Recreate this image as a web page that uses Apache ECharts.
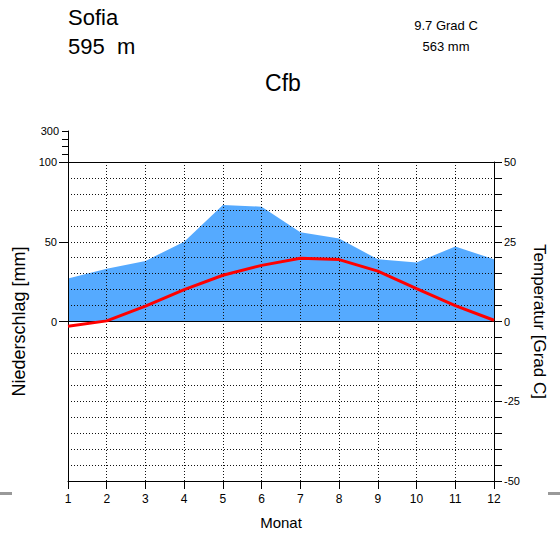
<!DOCTYPE html>
<html>
<head>
<meta charset="utf-8">
<script src="https://cdn.jsdelivr.net/npm/echarts@6/dist/echarts.min.js"></script>
<style>
html,body{margin:0;padding:0;background:#fff;}
#c{width:560px;height:535px;}
</style>
</head>
<body>
<div id="c"></div>
<script>
// ---- data ----
var months = [1, 2, 3, 4, 5, 6, 7, 8, 9, 10, 11, 12];
var precipitation = [27, 33, 38, 50, 73, 72, 56, 52, 39, 37, 47, 39]; // mm
var temperature = [-1.5, 0.2, 4.8, 10.0, 14.5, 17.6, 19.8, 19.4, 15.8, 10.3, 5.0, 0.4]; // Grad C
var stationName = 'Sofia';
var stationHeight = '595  m';
var meanTemp = '9.7 Grad C';
var sumPrecip = '563 mm';
var climateClass = 'Cfb';
var precipLabels = [0, 50, 100];
var precipUpperLabels = [300];
var tempLabels = [-50, -25, 0, 25, 50];

var FONT = '"Liberation Sans", Arial, sans-serif';
var dotted = { color: '#111', width: 1, type: [1, 2] };

var chart = echarts.init(document.getElementById('c'), null, { renderer: 'svg' });

var option = {
  backgroundColor: '#fff',
  animation: false,
  textStyle: { fontFamily: FONT },
  grid: [
    { left: 68, width: 426, top: 162, height: 320 },
    { left: 68, width: 426, top: 131, height: 31 }
  ],
  xAxis: [
    {
      gridIndex: 0, type: 'value', min: 1, max: 12, interval: 1, z: 3,
      position: 'bottom',
      axisLine: { onZero: false, lineStyle: { color: '#000', width: 1 } },
      axisTick: { length: 8, lineStyle: { color: '#000' } },
      axisLabel: { color: '#000', fontSize: 12, margin: 12, fontFamily: FONT },
      splitLine: { show: true, lineStyle: dotted },
      name: 'Monat', nameLocation: 'middle', nameGap: 34,
      nameTextStyle: { color: '#000', fontSize: 15, fontFamily: FONT }
    },
    {
      gridIndex: 0, type: 'value', min: 1, max: 12, position: 'top', z: 3,
      axisLine: { onZero: false, lineStyle: { color: '#000', width: 1 } },
      axisTick: { show: false }, axisLabel: { show: false }, splitLine: { show: false }
    },
    {
      gridIndex: 1, type: 'value', min: 1, max: 12, show: false
    }
  ],
  yAxis: [
    {
      gridIndex: 0, type: 'value', min: -100, max: 100, interval: 50, position: 'left', z: 3,
      axisLine: { show: true, onZero: false, lineStyle: { color: '#000', width: 1 } },
      axisTick: { show: true, length: 9, customValues: precipLabels, lineStyle: { color: '#000' } },
      axisLabel: { customValues: precipLabels, color: '#000', fontSize: 11, margin: 11, fontFamily: FONT },
      splitLine: { show: false },
      name: 'Niederschlag [mm]', nameLocation: 'middle', nameRotate: 90, nameGap: 40,
      nameTextStyle: { color: '#000', fontSize: 18, fontFamily: FONT }
    },
    {
      gridIndex: 0, type: 'value', min: -50, max: 50, interval: 5, position: 'right', z: 3,
      axisLine: { show: true, onZero: false, lineStyle: { color: '#000', width: 1 } },
      axisTick: { show: true, length: 8, lineStyle: { color: '#000' } },
      axisLabel: { customValues: tempLabels, color: '#000', fontSize: 11, margin: 10, fontFamily: FONT },
      splitLine: { show: true, lineStyle: dotted },
      name: 'Temperatur [Grad C]', nameLocation: 'middle', nameRotate: -90, nameGap: 36,
      nameTextStyle: { color: '#000', fontSize: 17, fontFamily: FONT }
    },
    {
      gridIndex: 1, type: 'value', min: 100, max: 300, interval: 50, position: 'left', z: 3,
      axisLine: { show: true, onZero: false, lineStyle: { color: '#000', width: 1 } },
      axisTick: { show: true, length: 6, lineStyle: { color: '#000' } },
      axisLabel: { customValues: precipUpperLabels, color: '#000', fontSize: 11, margin: 9, fontFamily: FONT },
      splitLine: { show: false }
    }
  ],
  series: [
    {
      type: 'line', name: 'Niederschlag', xAxisIndex: 0, yAxisIndex: 0, z: 1,
      data: months.map(function (m, i) { return [m, precipitation[i]]; }),
      symbol: 'none',
      lineStyle: { width: 0 },
      itemStyle: { color: '#55aaff' },
      areaStyle: { color: '#55aaff', opacity: 1, origin: 'auto' },
      markLine: {
        silent: true, symbol: 'none', label: { show: false },
        lineStyle: { color: '#000', width: 1, type: 'solid' },
        data: [{ yAxis: 0 }]
      }
    },
    {
      type: 'line', name: 'Temperatur', xAxisIndex: 0, yAxisIndex: 1, z: 5,
      data: months.map(function (m, i) { return [m, temperature[i]]; }),
      symbol: 'none',
      lineStyle: { color: '#ff0000', width: 3 },
      itemStyle: { color: '#ff0000' }
    }
  ],
  graphic: [
    { type: 'text', x: 68, y: 6, style: { text: stationName, font: '22px ' + FONT, fill: '#000', textVerticalAlign: 'alphabetic' } },
    { type: 'text', x: 68, y: 35, style: { text: stationHeight, font: '22px ' + FONT, fill: '#000', textVerticalAlign: 'alphabetic' } },
    { type: 'text', x: 446, y: 19, style: { text: meanTemp, font: '13px ' + FONT, fill: '#000', textAlign: 'center', textVerticalAlign: 'alphabetic' } },
    { type: 'text', x: 446, y: 40, style: { text: sumPrecip, font: '13px ' + FONT, fill: '#000', textAlign: 'center', textVerticalAlign: 'alphabetic' } },
    { type: 'text', x: 283, y: 71, style: { text: climateClass, font: '23px ' + FONT, fill: '#000', textAlign: 'center', textVerticalAlign: 'alphabetic' } },
    { type: 'rect', shape: { x: 0, y: 492, width: 12, height: 3 }, style: { fill: '#999' } },
    { type: 'rect', shape: { x: 548, y: 492, width: 12, height: 3 }, style: { fill: '#999' } }
  ]
};

chart.setOption(option);
</script>
</body>
</html>
